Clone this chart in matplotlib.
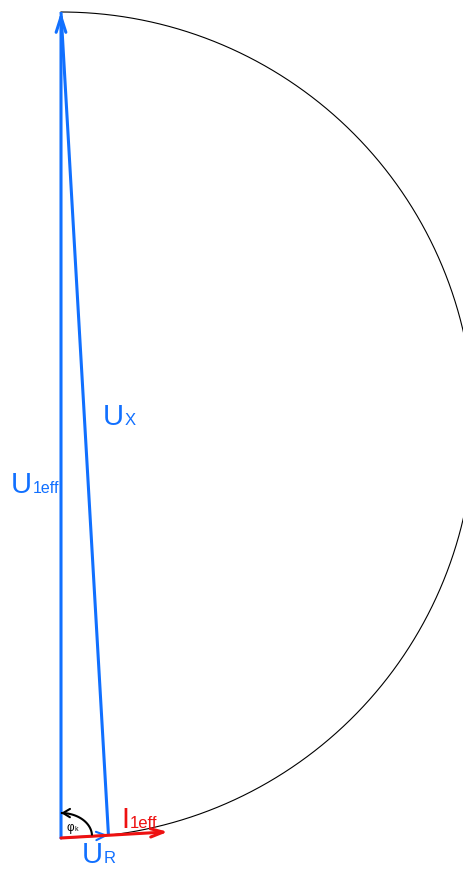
import numpy as np
import matplotlib
matplotlib.use("Agg")
import matplotlib.pyplot as plt
from matplotlib.patches import FancyArrowPatch
from matplotlib.path import Path

# ---- phasor data (arbitrary units, 1 unit = 1 px) ----
U1_eff = 826.0          # supply voltage magnitude (vertical)
phi_k_deg = 86.7        # short-circuit angle between current and U1
I1_eff = 107.0          # drawn length of current phasor
labels = ["U", "1eff", "U", "X", "U", "R", "I", "1eff", "φ", "k"]

blue = "#1170ff"
red = "#ee1111"
font = ["Liberation Sans", "DejaVu Sans"]

# derived phasors
i_ang = np.deg2rad(90.0 - phi_k_deg)
U1 = np.array([0.0, U1_eff])
UR_mag = U1_eff * np.cos(np.deg2rad(phi_k_deg))
UR = UR_mag * np.array([np.cos(i_ang), np.sin(i_ang)])
I1 = I1_eff * np.array([np.cos(i_ang), np.sin(i_ang)])

fig = plt.figure(figsize=(4.64, 8.69), dpi=100)
ax = fig.add_axes([0, 0, 1, 1])
ax.set_xlim(-61, 403)
ax.set_ylim(-31, 838)
ax.axis("off")

# Thales circle arc over U1
c = U1 / 2
r = U1_eff / 2
th0 = np.arctan2(UR[1] - c[1], UR[0] - c[0])
th = np.linspace(th0, np.pi / 2, 400)
ax.plot(c[0] + r * np.cos(th), c[1] + r * np.sin(th), color="black", lw=0.8, zorder=1)

def arrow(p0, p1, color, lw, hl=0.9, hw=0.4, z=3):
    ax.annotate("", xy=tuple(p1), xytext=tuple(p0),
                arrowprops=dict(arrowstyle=f"->,head_length={hl},head_width={hw}",
                                lw=lw, color=color, shrinkA=0, shrinkB=0),
                zorder=z)

# U1eff
arrow([0, 0], U1, blue, 2.2, hl=1.1, hw=0.35)
# Ux
ax.plot([UR[0], U1[0]], [UR[1], U1[1]], color=blue, lw=2.2, zorder=3,
        solid_capstyle="butt")
# UR
arrow([0, 0], UR, blue, 1.5, hl=0.7, hw=0.3)
# I1eff
arrow([0, 0], I1, red, 2.2, hl=0.9, hw=0.3, z=4)

# phi_k arc (from current direction to U1)
t = np.linspace(i_ang, np.pi / 2, 60)
verts = np.column_stack([31 * np.cos(t), 23 * np.sin(t)])
verts[:, 1] += 2
pa = FancyArrowPatch(path=Path(verts), arrowstyle="->,head_length=5,head_width=3",
                     color="black", lw=1.5, transform=ax.transData, zorder=5,
                     shrinkA=0, shrinkB=0)
ax.add_patch(pa)

def label(x, y, main, sub, color, size=21, subsize=12, gap=1):
    t1 = ax.text(x, y, main, color=color, fontsize=size, family=font,
                 ha="left", va="baseline")
    fig.canvas.draw()
    bb = t1.get_window_extent()
    x2 = ax.transData.inverted().transform((bb.x1 + gap, 0))[0]
    ax.text(x2, y, sub, color=color, fontsize=subsize, family=font,
            ha="left", va="baseline")

label(-50, 838 - 493, labels[0], labels[1], blue, subsize=11.5, gap=0.5)
label(42, 838 - 425, labels[2], labels[3], blue)
label(21, 838 - 863, labels[4], labels[5], blue)
label(60, 838 - 828, labels[6], labels[7], red)
label(6, 838 - 831, labels[8], labels[9], "black", size=8.5, subsize=5, gap=0)

fig.savefig("out.png", dpi=100)
